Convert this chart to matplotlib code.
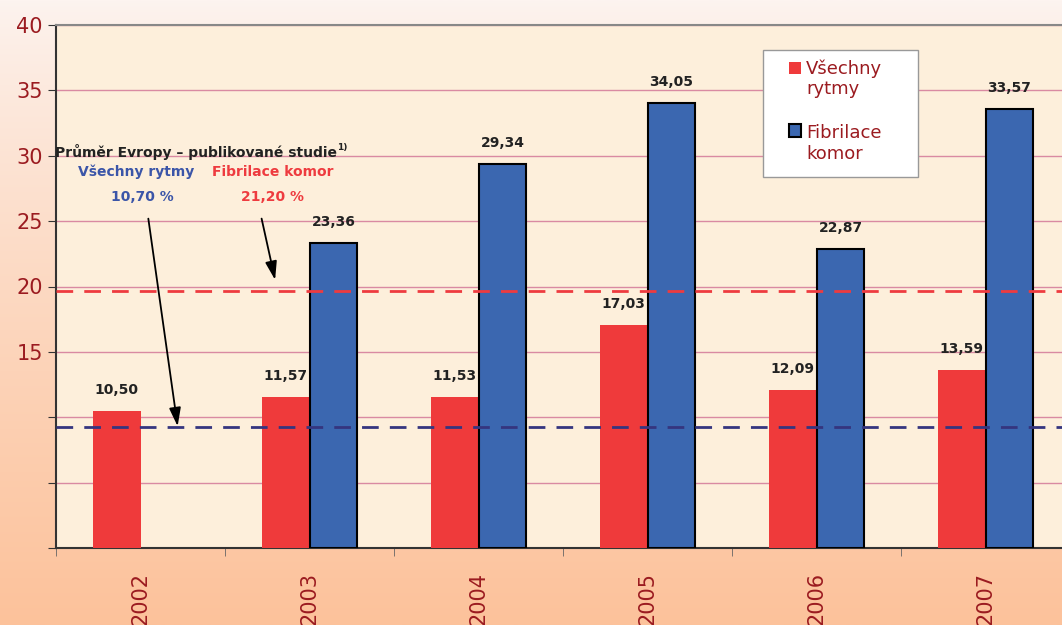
import numpy as np
import matplotlib.pyplot as plt
from matplotlib.patches import Rectangle

years = ['2002', '2003', '2004', '2005', '2006', '2007']
vsechny = [10.50, 11.57, 11.53, 17.03, 12.09, 13.59]
fibrilace = [np.nan, 23.36, 29.34, 34.05, 22.87, 33.57]
evropa_vsechny = 9.25
evropa_fibrilace = 19.65

red = '#ef3a3b'
blue = '#3b67b0'
dark_red = '#9b1b20'
lab_size = 10

fig = plt.figure(figsize=(10.62, 6.25), dpi=100)
W, H = 1062, 625

# pozadi - prechod
bg = fig.add_axes([0, 0, 1, 1], zorder=-10)
grad = np.linspace(0, 1, 256)[:, None]
top = np.array([253, 244, 240]) / 255
bottom = np.array([252, 194, 155]) / 255
img = top + (bottom - top) * grad[:, :, None] ** 0.8
bg.imshow(img, aspect='auto', extent=[0, 1, 0, 1])
bg.axis('off')

ax = fig.add_axes([56 / W, 77 / H, 1014 / W, 523 / H])
ax.set_facecolor('#fdefdb')

x = np.arange(len(years))
w = 0.284
ax.bar(x - w / 2, vsechny, w, color=red, zorder=3)
ax.bar(x + w / 2, fibrilace, w, color=blue, edgecolor='black', linewidth=1.5, zorder=3)

for i, v in enumerate(vsechny):
    ax.annotate(f'{v:.2f}'.replace('.', ','), (x[i] - w / 2, v), xytext=(0, 10),
                textcoords='offset points', ha='center', va='bottom',
                fontsize=lab_size, fontweight='bold', color='#222222')
for i, v in enumerate(fibrilace):
    if np.isnan(v):
        continue
    ax.annotate(f'{v:.2f}'.replace('.', ','), (x[i] + w / 2, v), xytext=(0, 10),
                textcoords='offset points', ha='center', va='bottom',
                fontsize=lab_size, fontweight='bold', color='#222222')

ax.axhline(evropa_fibrilace, color='#ee3b3f', ls=(0, (6, 4)), lw=2, zorder=4)
ax.axhline(evropa_vsechny, color='#35357f', ls=(0, (6, 4)), lw=2, zorder=4)

ax.set_xlim(-0.5, 5.5)
ax.set_ylim(0, 40)
ax.set_yticks(range(0, 45, 5))
ax.set_yticklabels(['', '', '', '15', '20', '25', '30', '35', '40'])
ax.yaxis.grid(True, color='#d98aa2', lw=1, zorder=0)
ax.tick_params(axis='y', colors='#333333', labelcolor=dark_red, labelsize=15, length=6)

ax.set_xticks(x)
ax.set_xticklabels(years, rotation=90, color=dark_red, fontsize=15)
ax.set_xticks(np.arange(-0.5, 6, 1), minor=True)
ax.tick_params(axis='x', which='major', length=0, pad=17)
ax.tick_params(axis='x', which='minor', length=6, color='#666666')

for s in ['left', 'bottom']:
    ax.spines[s].set_color('#333333')
    ax.spines[s].set_linewidth(1.5)
ax.spines['top'].set_color('#888888')
ax.spines['top'].set_linewidth(1.5)
ax.spines['right'].set_visible(False)

# popisky Evropy
ax.text(-0.506, 30.3, 'Průměr Evropy – publikované studie', fontsize=lab_size,
        fontweight='bold', color='#222222', va='center')
ax.text(1.165, 30.6, '1)', fontsize=6.5, fontweight='bold',
        color='#222222', va='center')
ax.text(-0.027, 28.75, 'Všechny rytmy', fontsize=lab_size, fontweight='bold',
        color='#3b55a8', ha='center', va='center')
ax.text(0.01, 26.85, '10,70 %', fontsize=lab_size, fontweight='bold',
        color='#3b55a8', ha='center', va='center')
ax.text(0.78, 28.75, 'Fibrilace komor', fontsize=lab_size, fontweight='bold',
        color='#ee3b3f', ha='center', va='center')
ax.text(0.78, 26.85, '21,20 %', fontsize=lab_size, fontweight='bold',
        color='#ee3b3f', ha='center', va='center')

arrow = dict(arrowstyle='-|>,head_length=0.7,head_width=0.22', color='black',
             lw=1.3, mutation_scale=16)
ax.annotate('', xy=(0.222, 9.1), xytext=(0.044, 25.4), arrowprops=arrow, zorder=5)
ax.annotate('', xy=(0.80, 20.3), xytext=(0.713, 25.4), arrowprops=arrow, zorder=5)

# legenda
fig.patches.append(Rectangle((763 / W, 1 - 177 / H), 155 / W, 127 / H,
                             transform=fig.transFigure, facecolor='white',
                             edgecolor='#999999', lw=1, zorder=10))
fig.patches.append(Rectangle((789 / W, 1 - 74 / H), 12 / W, 12 / H,
                             transform=fig.transFigure, facecolor=red,
                             edgecolor='none', zorder=11))
fig.patches.append(Rectangle((789 / W, 1 - 137 / H), 12 / W, 13 / H,
                             transform=fig.transFigure, facecolor=blue,
                             edgecolor='black', lw=1.5, zorder=11))
fig.text(806 / W, 1 - 59 / H, 'Všechny\nrytmy', fontsize=13, color=dark_red,
         va='top', ha='left', linespacing=1.2, zorder=12)
fig.text(806 / W, 1 - 124 / H, 'Fibrilace\nkomor', fontsize=13, color=dark_red,
         va='top', ha='left', linespacing=1.2, zorder=12)

fig.savefig('out.png', dpi=100)
